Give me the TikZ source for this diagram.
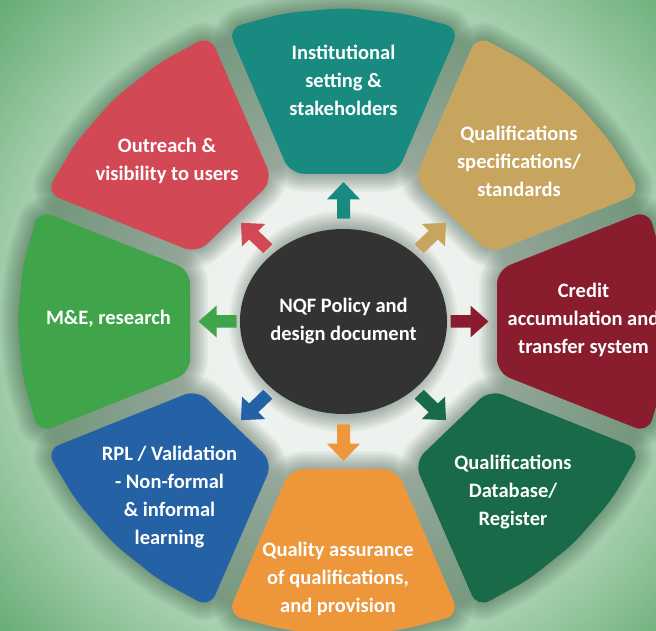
\documentclass[tikz,border=0pt]{standalone}
\usepackage{fontspec}
\setmainfont{Carlito}
\usepackage{tikz}
\usetikzlibrary{positioning,calc,shapes.geometric}
\definecolor{bgin}{RGB}{238,242,238}
\definecolor{bgmid}{RGB}{168,209,176}
\definecolor{bgout}{RGB}{96,168,112}
\definecolor{tealseg}{RGB}{25,138,127}
\definecolor{tanseg}{RGB}{200,165,95}
\definecolor{maroonseg}{RGB}{137,29,46}
\definecolor{forestseg}{RGB}{24,106,72}
\definecolor{orangeseg}{RGB}{237,150,58}
\definecolor{blueseg}{RGB}{36,97,165}
\definecolor{greenseg}{RGB}{64,165,74}
\definecolor{redseg}{RGB}{210,72,84}
\definecolor{hubgray}{RGB}{51,51,51}
\definecolor{shadowcol}{RGB}{20,50,30}
\pgfdeclareradialshading{bgshade}{\pgfpoint{0bp}{0bp}}{color(0bp)=(bgin); color(14bp)=(bgin); color(34bp)=(bgmid); color(50bp)=(bgout)}
% one segment of the wheel, pointing along the x axis
\newcommand{\petal}{(153.5,-53.5) -- (304.8,-115.8) -- (320.6,-58.9) -- (326,0) -- (320.6,58.9) -- (304.8,115.8) -- (153.5,53.5) -- cycle}

\begin{document}
\begin{tikzpicture}[x=1pt,y=1pt,lbl/.style={text=white,font=\bfseries\fontsize{20.5}{28}\selectfont,align=center},hub/.style={ellipse,fill=hubgray,minimum width=193pt,minimum height=185pt,inner sep=0pt},halo/.style={draw=shadowcol,opacity=0.045,line join=round,rounded corners=14pt},seg/.style={rounded corners=14pt}]
\useasboundingbox (0,0) rectangle (656,631);
\clip (0,0) rectangle (656,631);
\coordinate (c) at (343.5,309.5);
\node[inner sep=0pt,scale=9.6] (bg) at (c) {\pgfuseshading{bgshade}};
% shadows first, then the coloured segments and arrows
\foreach \a in {90,45,0,-45,-90,-135,180,135}{
  \begin{scope}[shift={(c)},yscale=0.962,rotate=\a]
    \foreach \w in {36,32,...,4} \draw[halo,line width=\w pt] \petal;
  \end{scope}}
\foreach \w in {36,32,...,4} \draw[halo,line width=\w pt] (c) ellipse[x radius=96.5,y radius=92.5];
\foreach \a/\col in {90/tealseg,45/tanseg,0/maroonseg,-45/forestseg,-90/orangeseg,-135/blueseg,180/greenseg,135/redseg}{
  \begin{scope}[shift={(c)},yscale=0.962,rotate=\a]
    \fill[seg,\col] \petal;
    \fill[\col] (107,-6.5) -- (127,-6.5) -- (127,-16.5) -- (145,0) -- (127,16.5) -- (127,6.5) -- (107,6.5) -- cycle;
  \end{scope}}
\node[hub,lbl] (hub) at (c) {NQF Policy and\\design document};
\node[lbl] (inst) at ($(c)+(0,241.5)$) {Institutional\\setting \&\\stakeholders};
\node[lbl] (qspec) at ($(c)+(175.5,160.5)$) {Qualifications\\specifications/\\standards};
\node[lbl] (credit) at ($(c)+(240,1.5)$) {Credit\\accumulation and\\transfer system};
\node[lbl] (qdb) at ($(c)+(169.5,-170.5)$) {Qualifications\\Database/\\Register};
\node[lbl] (qa) at ($(c)+(-5.5,-257.5)$) {Quality assurance\\of qualifications,\\and provision};
\node[lbl] (rpl) at ($(c)+(-174,-175.5)$) {RPL / Validation\\- Non-formal\\\& informal\\learning};
\node[lbl] (mne) at ($(c)+(-235,3)$) {M\&E, research};
\node[lbl] (outreach) at ($(c)+(-176.5,160.5)$) {Outreach \&\\visibility to users};
\end{tikzpicture}
\end{document}
